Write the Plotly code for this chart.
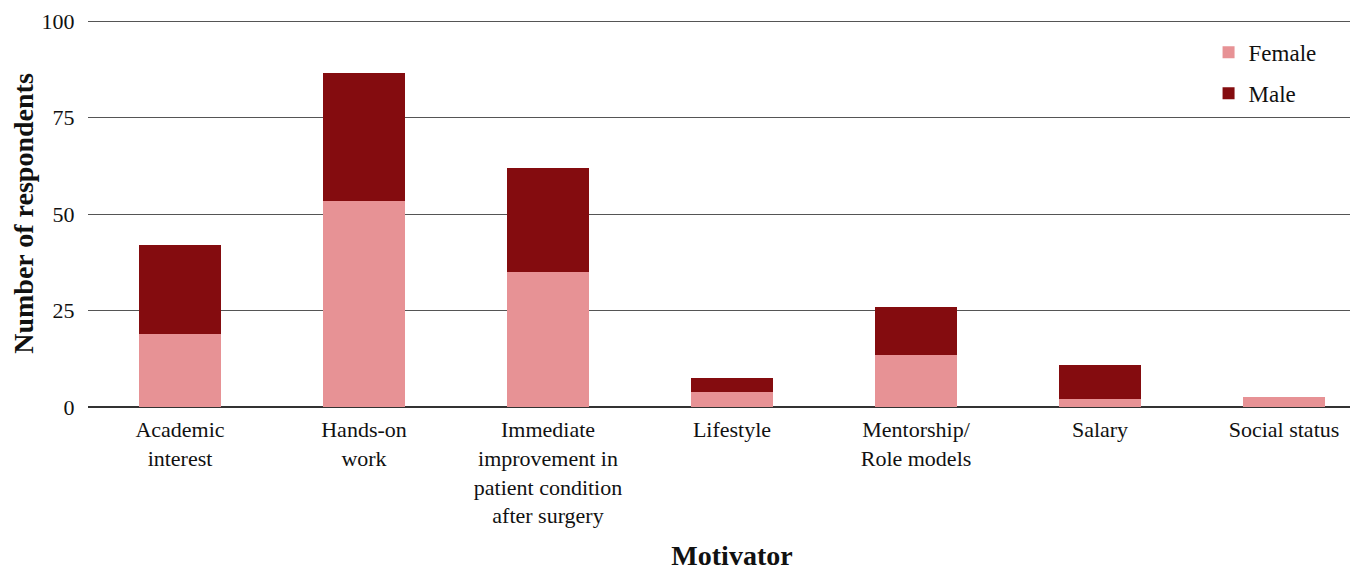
import plotly.graph_objects as go

categories = ["Academic<br>interest", "Hands-on<br>work",
              "Immediate<br>improvement in<br>patient condition<br>after surgery",
              "Lifestyle", "Mentorship/<br>Role models", "Salary", "Social status"]
female = [19, 53.5, 35, 4, 13.5, 2, 2.5]
male = [23, 33, 27, 3.5, 12.5, 9, 0]

FONT = "Liberation Serif"

fig = go.Figure()
fig.add_trace(go.Bar(x=categories, y=female, name="Female", marker_color="#e79295",
                     marker_line_width=0, legendgroup="f"))
fig.add_trace(go.Bar(x=categories, y=male, name="Male", marker_color="#840c0f",
                     marker_line_width=0, legendgroup="m"))

fig.update_layout(
    barmode="stack",
    bargap=0.554,
    width=1368, height=581,
    margin=dict(l=80, r=0, t=12, b=182),
    plot_bgcolor="white", paper_bgcolor="white",
    font=dict(family=FONT, size=22, color="#111"),
    legend=dict(x=0.870, y=0.972, xanchor="left", yanchor="top",
                font=dict(family=FONT, size=23, color="#111"),
                traceorder="grouped", tracegroupgap=8,
                bgcolor="rgba(0,0,0,0)"),
    xaxis=dict(title=dict(text="<b>Motivator</b>", font=dict(family=FONT, size=28), standoff=18),
               tickfont=dict(family=FONT, size=22, color="#111"),
               ticks="outside", ticklen=3, tickcolor="rgba(0,0,0,0)",
               showgrid=False, automargin=False),
    yaxis=dict(title=dict(text="<b>Number of respondents</b>", font=dict(family=FONT, size=28), standoff=4),
               range=[0, 100.3], tickvals=[0, 25, 50, 75, 100],
               tickfont=dict(family=FONT, size=22, color="#111"),
               showgrid=True, gridcolor="#555", gridwidth=1,
               zeroline=True, zerolinecolor="#333", zerolinewidth=2,
               ticks="outside", ticklen=8, tickcolor="rgba(0,0,0,0)", automargin=False),
)

fig.write_html("out.html")
